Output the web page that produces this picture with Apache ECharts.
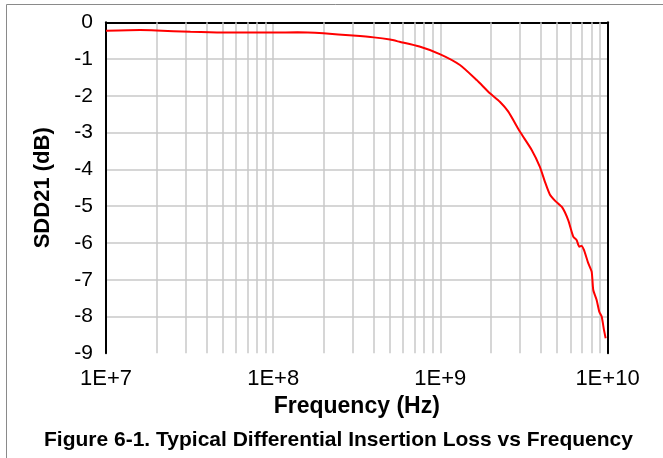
<!DOCTYPE html>
<html>
<head>
<meta charset="utf-8">
<script src="https://cdn.jsdelivr.net/npm/echarts@6/dist/echarts.min.js"></script>
<style>
html,body{margin:0;padding:0;background:#fff;}
#c{width:663px;height:458px;}
</style>
</head>
<body>
<div id="c"></div>
<script>
// ---- data ----
var freqHz = [1.0e7, 1.6e7, 2.0e7, 3.2e7, 5.0e7, 1.0e8, 1.4e8, 2.0e8, 3.0e8, 4.0e8, 5.0e8, 5.7e8, 7.5e8,
  1.0e9, 1.31e9, 1.65e9, 1.98e9, 2.27e9, 2.55e9, 2.99e9, 3.52e9, 3.94e9, 4.22e9, 4.52e9, 4.9e9, 5.37e9,
  5.82e9, 6.24e9, 6.53e9, 6.78e9, 7.0e9, 7.23e9, 7.67e9, 8.04e9, 8.22e9, 8.61e9, 8.93e9, 9.23e9, 9.53e9, 9.75e9];
var sdd21 = [-0.23, -0.21, -0.22, -0.26, -0.28, -0.28, -0.27, -0.30, -0.36, -0.41, -0.47, -0.53, -0.66,
  -0.87, -1.16, -1.57, -1.93, -2.16, -2.43, -2.97, -3.47, -3.93, -4.33, -4.68, -4.87, -5.04,
  -5.38, -5.83, -5.92, -6.10, -6.08, -6.19, -6.55, -6.78, -7.28, -7.55, -7.87, -8.00, -8.37, -8.59];
var xDecades = [1e7, 1e8, 1e9, 1e10];
var xTickLabels = ['1E+7', '1E+8', '1E+9', '1E+10'];
var minorMultipliers = [2, 3, 4, 5, 6, 7, 8, 9];
var yMin = -9, yMax = 0, yStep = 1;
var xTitle = 'Frequency (Hz)';
var yTitle = 'SDD21 (dB)';
var caption = 'Figure 6-1. Typical Differential Insertion Loss vs Frequency';

var points = freqHz.map(function (f, i) { return [f, sdd21[i]]; });
var minorLines = [];
xDecades.slice(0, 3).forEach(function (d) {
  minorMultipliers.forEach(function (m) { minorLines.push({ xAxis: d * m }); });
});
var FONT = '"Liberation Sans", Arial, sans-serif';
var GRID = '#c8c8c8';

var chart = echarts.init(document.getElementById('c'), null, { renderer: 'canvas' });
chart.setOption({
  animation: false,
  backgroundColor: '#ffffff',
  title: {
    text: caption,
    left: 39, top: 425,
    textStyle: { fontFamily: FONT, fontSize: 21, fontWeight: 'bold', color: '#000' }
  },
  graphic: [{
    type: 'rect', left: 4, top: 2, silent: true,
    shape: { width: 720, height: 520 },
    style: { fill: 'none', stroke: '#8a8a8a', lineWidth: 1 }
  }],
  grid: { left: 106, right: 55.5, top: 22.3, bottom: 104.7, containLabel: false },
  xAxis: [{
    type: 'log', logBase: 10, min: 1e7, max: 1e10,
    name: xTitle, nameLocation: 'middle', nameGap: 40,
    nameTextStyle: { fontFamily: FONT, fontSize: 23, fontWeight: 'bold', color: '#000' },
    axisLine: { show: true, lineStyle: { color: '#000', width: 2 } },
    axisTick: { show: false },
    axisLabel: {
      fontFamily: FONT, fontSize: 22, color: '#000', margin: 15,
      formatter: function (v) {
        var i = xDecades.indexOf(v);
        return i >= 0 ? xTickLabels[i] : '';
      }
    },
    splitLine: { show: true, showMinLine: false, showMaxLine: false, lineStyle: { color: GRID, width: 1.5 } }
  }, {
    type: 'log', logBase: 10, min: 1e7, max: 1e10, position: 'top',
    axisLine: { show: true, lineStyle: { color: '#000', width: 2 } },
    axisTick: { show: false }, axisLabel: { show: false }, splitLine: { show: false }
  }],
  yAxis: [{
    type: 'value', min: yMin, max: yMax, interval: yStep,
    name: yTitle, nameLocation: 'middle', nameGap: 52, nameRotate: 90,
    nameTextStyle: { fontFamily: FONT, fontSize: 22, fontWeight: 'bold', color: '#000' },
    axisLine: { show: true, lineStyle: { color: '#000', width: 2 } },
    axisTick: { show: false },
    axisLabel: { fontFamily: FONT, fontSize: 21, color: '#000', margin: 13 },
    splitLine: { show: true, showMinLine: false, showMaxLine: false, lineStyle: { color: GRID, width: 1.5 } }
  }, {
    type: 'value', min: yMin, max: yMax, interval: yStep, position: 'right',
    axisLine: { show: true, lineStyle: { color: '#000', width: 2 } },
    axisTick: { show: false }, axisLabel: { show: false }, splitLine: { show: false }
  }],
  series: [{
    type: 'line', xAxisIndex: 0, yAxisIndex: 0, data: [], z: 1, silent: true,
    markLine: {
      silent: true, symbol: 'none', animation: false,
      label: { show: false },
      lineStyle: { color: GRID, width: 1.5, type: 'solid' },
      emphasis: { disabled: true },
      data: minorLines
    }
  }, {
    type: 'line', xAxisIndex: 0, yAxisIndex: 0, data: points, z: 5,
    showSymbol: false, symbol: 'none', smooth: 0.2,
    lineStyle: { color: '#ff0000', width: 2 }
  }]
});
</script>
</body>
</html>
